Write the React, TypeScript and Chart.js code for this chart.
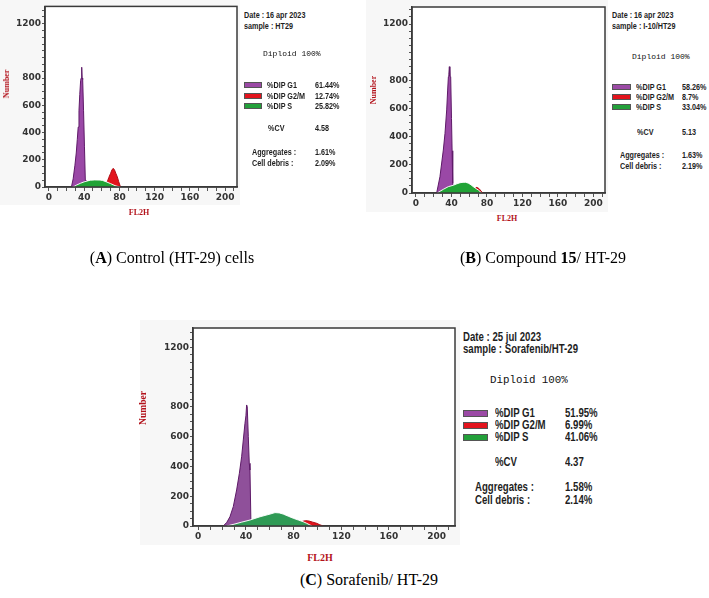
import React, { useEffect, useRef } from 'react';
import { Chart, registerables } from 'chart.js';
Chart.register(...registerables);

// ---------- axis tick labels ----------
const Y_TICK_LABELS = [0, 200, 400, 600, 800, 1200];
const X_TICK_LABELS = [0, 40, 80, 120, 160, 200];
const Y_TICK_MARKS = Array.from({ length: 27 }, (_, i) => i * 50); // minor ticks every 50
const X_TICK_MARKS = Array.from({ length: 22 }, (_, i) => i * 10); // minor ticks every 10

// ---------- Panel A : Control (HT-29) ----------
const A_G1_X = [25.5, 27.5, 29.5, 31, 32.2, 33.2, 34.1, 35, 36, 36.6, 37.2, 37.7, 38.3, 39.3, 40.3, 41.3, 42];
const A_G1_Y = [0, 60, 160, 250, 350, 440, 560, 680, 784, 800, 880, 800, 790, 560, 300, 50, 0];
const A_S_X = [27.5, 31.5, 36, 40, 44, 47, 52, 58, 61, 65, 70, 75, 80.5];
const A_S_Y = [0, 15, 28, 38, 45, 50, 52, 51, 48, 38, 25, 10, 0];
const A_G2_X = [64.5, 66.3, 68, 70, 71.5, 73, 74.5, 76, 77.6, 79.2, 81, 82];
const A_G2_Y = [0, 39, 70, 100, 125, 137, 125, 100, 75, 40, 5, 0];

// ---------- Panel B : Compound 15 / HT-29 ----------
const B_G1_X = [23.3, 27, 30.8, 32.7, 34.6, 35.7, 36.5, 37.0, 37.6, 38.2, 39.1, 40.0, 40.7, 41.4, 42.2];
const B_G1_Y = [0, 115, 305, 424, 590, 731, 826, 840, 897, 830, 826, 530, 300, 69, 0];
const B_S_X = [24, 27, 30.8, 36.4, 42, 46, 49.6, 53, 56, 59, 62, 64.6, 67.5, 70.3, 74];
const B_S_Y = [0, 12, 26, 45, 55, 65, 73, 76, 76, 70, 58, 45, 32, 21, 0];
const B_G2_X = [66, 67.7, 69.5, 71.5, 73.5, 75.5];
const B_G2_Y = [0, 40, 38, 28, 12, 0];

// ---------- Panel C : Sorafenib / HT-29 ----------
const C_G1_X = [21, 24, 26.6, 29.4, 32.2, 34.5, 36.4, 37.8, 39.2, 40.0, 40.6, 41.1, 42.0, 42.8, 43.4, 44.2, 44.8];
const C_G1_Y = [0, 25, 62, 130, 242, 354, 465, 578, 690, 740, 813, 801, 600, 421, 376, 18, 0];
const C_S_X = [23.8, 30, 36, 43.4, 51.8, 60.2, 64.4, 68, 71.3, 75.5, 79.7, 84, 88, 91, 93.7, 95.5];
const C_S_Y = [0, 12, 25, 40, 62, 80, 90, 88, 80, 66, 52, 40, 29, 18, 7, 0];
const C_G2_X = [84, 87, 90, 93, 96, 99.4, 102, 105];
const C_G2_Y = [0, 30, 36, 33, 26, 18, 8, 0];

// ---------- info texts ----------
const LEGEND_NAMES = ['%DIP G1', '%DIP G2/M', '%DIP S'];
const A_INFO = { date: 'Date : 16 apr 2023', sample: 'sample : HT29', vals: ['61.44%', '12.74%', '25.82%'], cv: '4.58', agg: '1.61%', debris: '2.09%' };
const B_INFO = { date: 'Date : 16 apr 2023', sample: 'sample : I-10/HT29', vals: ['58.26%', '8.7%', '33.04%'], cv: '5.13', agg: '1.63%', debris: '2.19%' };
const C_INFO = { date: 'Date : 25 jul 2023', sample: 'sample :  Sorafenib/HT-29', vals: ['51.95%', '6.99%', '41.06%'], cv: '4.37', agg: '1.58%', debris: '2.14%' };

const pts = (xs: number[], ys: number[]) => xs.map((x, i) => ({ x, y: ys[i] }));

const SANS = '"Liberation Sans", Arial, sans-serif';
const MONO = '"Liberation Mono", "DejaVu Sans Mono", monospace';
const SERIF = '"Liberation Serif", "Times New Roman", serif';

const framePlugin = {
  id: 'frame',
  beforeDraw(chart: any) {
    const { ctx, chartArea, width, height } = chart;
    const { left, top, right, bottom } = chartArea;
    ctx.save();
    ctx.fillStyle = '#f7f7f7';
    ctx.fillRect(0, 0, width, height);
    ctx.fillStyle = '#ffffff';
    ctx.fillRect(left, top, right - left, bottom - top);
    ctx.restore();
  },
  afterDraw(chart: any) {
    const { ctx, chartArea } = chart;
    const { left, top, right, bottom } = chartArea;
    ctx.save();
    ctx.strokeStyle = '#3a3a3a';
    ctx.lineWidth = 1.5;
    ctx.strokeRect(left, top, right - left, bottom - top);
    ctx.restore();
  },
};

type PanelCfg = {
  left: number; top: number; w: number; h: number;
  yW: number; xH: number; padTop: number; padRight: number;
  xMin: number; xMax: number; yMax: number;
  g1: { x: number; y: number }[]; g2: { x: number; y: number }[]; s: { x: number; y: number }[];
  purple: string; green: string;
};

function Panel({ cfg }: { cfg: PanelCfg }) {
  const ref = useRef<HTMLCanvasElement>(null);
  useEffect(() => {
    const tickFont = { family: '"DejaVu Sans", sans-serif', weight: 'bold' as const, size: 9 };
    const chart = new Chart(ref.current as HTMLCanvasElement, {
      type: 'line',
      data: {
        datasets: [
          { label: '%DIP S', data: cfg.s, fill: 'origin', backgroundColor: cfg.green, borderColor: 'rgba(255,255,255,0.95)', borderWidth: 1, pointRadius: 0, tension: 0, order: 0 },
          { label: '%DIP G2/M', data: cfg.g2, fill: 'origin', backgroundColor: '#e3141d', borderColor: '#b00d15', borderWidth: 1, pointRadius: 0, tension: 0, order: 1 },
          { label: '%DIP G1', data: cfg.g1, fill: 'origin', backgroundColor: cfg.purple, borderColor: '#5e1a68', borderWidth: 1, pointRadius: 0, tension: 0, order: 2 },
        ],
      },
      options: {
        animation: false,
        responsive: false,
        maintainAspectRatio: false,
        layout: { padding: { left: 0, top: cfg.padTop, right: cfg.padRight, bottom: 0 } },
        plugins: { legend: { display: false }, tooltip: { enabled: false } },
        scales: {
          x: {
            type: 'linear', min: cfg.xMin, max: cfg.xMax,
            afterBuildTicks: (s: any) => { s.ticks = X_TICK_MARKS.map((v) => ({ value: v })); },
            afterFit: (s: any) => { s.height = cfg.xH; },
            border: { display: true, color: '#3a3a3a', width: 1.5 },
            grid: { drawOnChartArea: false, drawTicks: true, tickLength: 4, color: '#555' },
            ticks: {
              autoSkip: false, maxRotation: 0, minRotation: 0, padding: 1, color: '#333', font: tickFont,
              callback: (v: any) => (X_TICK_LABELS.includes(Number(v)) ? String(v) : ''),
            },
          },
          y: {
            type: 'linear', min: 0, max: cfg.yMax,
            afterBuildTicks: (s: any) => { s.ticks = Y_TICK_MARKS.map((v) => ({ value: v })); },
            afterFit: (s: any) => { s.width = cfg.yW; },
            border: { display: true, color: '#3a3a3a', width: 1.5 },
            grid: { drawOnChartArea: false, drawTicks: true, tickLength: 3, color: '#555' },
            ticks: {
              autoSkip: false, padding: 1, color: '#333', font: tickFont,
              callback: (v: any) => (Y_TICK_LABELS.includes(Number(v)) ? String(v) : ''),
            },
          },
        },
      },
      plugins: [framePlugin],
    } as any);
    return () => chart.destroy();
  }, []);
  return (
    <canvas ref={ref} width={cfg.w} height={cfg.h}
      style={{ position: 'absolute', left: cfg.left, top: cfg.top, width: cfg.w, height: cfg.h }} />
  );
}

function T({ x, y, size, family = SANS, weight = 700, color = '#1e1e1e', children, center = false, sx }: any) {
  const tf = [center ? 'translateX(-50%)' : '', sx ? `scaleX(${sx})` : ''].join(' ').trim();
  return (
    <div style={{
      position: 'absolute', left: x, top: y - size / 2, fontSize: size, lineHeight: `${size}px`,
      fontFamily: family, fontWeight: weight, color, whiteSpace: 'nowrap',
      transform: tf || undefined, transformOrigin: 'left center',
    }}>{children}</div>
  );
}

function Rotated({ x, y, size, children }: any) {
  return (
    <div style={{
      position: 'absolute', left: x, top: y, fontSize: size, lineHeight: `${size}px`, fontFamily: SERIF,
      fontWeight: 700, color: '#b3121b', whiteSpace: 'nowrap', transform: 'translate(-50%,-50%) rotate(-90deg)',
    }}>{children}</div>
  );
}

function Swatch({ x, y, w, h, color }: any) {
  return <div style={{ position: 'absolute', left: x, top: y - h / 2, width: w - 2, height: h - 2, background: color, border: '1px solid #555' }} />;
}

const SWATCH_COLORS = ['#9b4aa5', '#e3141d', '#23a03a'];

function Info({ info, L }: any) {
  const sx = L.sx;
  const els: any[] = [];
  els.push(<T key="d" x={L.x0} y={L.yDate} size={L.fs} sx={sx}>{info.date}</T>);
  els.push(<T key="s" x={L.x0} y={L.ySample} size={L.fs} sx={sx}>{info.sample}</T>);
  els.push(<T key="dip" x={L.xDip} y={L.yDip} size={L.fsMono} family={MONO} weight={400} color="#111">Diploid 100%</T>);
  LEGEND_NAMES.forEach((n, i) => {
    els.push(<Swatch key={'sw' + i} x={L.x0} y={L.yRows[i]} w={L.swW} h={L.swH} color={SWATCH_COLORS[i]} />);
    els.push(<T key={'n' + i} x={L.xName} y={L.yRows[i]} size={L.fs} sx={sx}>{n}</T>);
    els.push(<T key={'v' + i} x={L.xVal} y={L.yRows[i]} size={L.fs} sx={sx}>{info.vals[i]}</T>);
  });
  els.push(<T key="cv" x={L.xCv} y={L.yCv} size={L.fs} sx={sx}>%CV</T>);
  els.push(<T key="cvv" x={L.xVal} y={L.yCv} size={L.fs} sx={sx}>{info.cv}</T>);
  els.push(<T key="ag" x={L.xAgg} y={L.yAgg} size={L.fs} sx={sx}>Aggregates :</T>);
  els.push(<T key="agv" x={L.xVal} y={L.yAgg} size={L.fs} sx={sx}>{info.agg}</T>);
  els.push(<T key="cd" x={L.xAgg} y={L.yDeb} size={L.fs} sx={sx}>Cell debris :</T>);
  els.push(<T key="cdv" x={L.xVal} y={L.yDeb} size={L.fs} sx={sx}>{info.debris}</T>);
  return <>{els}</>;
}

const PANEL_A: PanelCfg = {
  left: 0, top: 0, w: 240, h: 205, yW: 45, xH: 18, padTop: 6, padRight: 3,
  xMin: -4.5, xMax: 213.6, yMax: 1327,
  g1: pts(A_G1_X, A_G1_Y), g2: pts(A_G2_X, A_G2_Y), s: pts(A_S_X, A_S_Y),
  purple: '#9a48a6', green: '#21a336',
};
const PANEL_B: PanelCfg = {
  left: 366, top: 0, w: 242, h: 212, yW: 46, xH: 19, padTop: 7, padRight: 3,
  xMin: -4.5, xMax: 213, yMax: 1321,
  g1: pts(B_G1_X, B_G1_Y), g2: pts(B_G2_X, B_G2_Y), s: pts(B_S_X, B_S_Y),
  purple: '#9a48a6', green: '#21a336',
};
const PANEL_C: PanelCfg = {
  left: 140, top: 320, w: 320, h: 225, yW: 53, xH: 19, padTop: 8, padRight: 5,
  xMin: -4.4, xMax: 215.4, yMax: 1330,
  g1: pts(C_G1_X, C_G1_Y), g2: pts(C_G2_X, C_G2_Y), s: pts(C_S_X, C_S_Y),
  purple: '#8f509a', green: '#2f9a55',
};

const LAYOUT_A = { x0: 244, yDate: 15, ySample: 26, xDip: 263, yDip: 54, fs: 9.5, sx: 0.76, fsMono: 8, swW: 18, swH: 6, yRows: [85, 96, 106], xName: 267, xVal: 315, xCv: 268, yCv: 128, xAgg: 252, yAgg: 152, yDeb: 163 };
const LAYOUT_B = { x0: 612, yDate: 15, ySample: 26, xDip: 632, yDip: 57, fs: 9.5, sx: 0.76, fsMono: 8, swW: 19, swH: 6, yRows: [87, 97, 107], xName: 636, xVal: 682, xCv: 637, yCv: 132, xAgg: 620, yAgg: 155, yDeb: 166 };
const LAYOUT_C = { x0: 463, yDate: 337, ySample: 349, xDip: 490, yDip: 380, fs: 12.5, sx: 0.77, fsMono: 10.8, swW: 25, swH: 7, yRows: [413, 425, 437], xName: 495, xVal: 565, xCv: 495, yCv: 462, xAgg: 475, yAgg: 487, yDeb: 500 };

export default function App() {
  return (
    <div style={{ position: 'absolute', left: 0, top: 0, width: 709, height: 598, background: '#fff', overflow: 'hidden' }}>
      <Panel cfg={PANEL_A} />
      <Panel cfg={PANEL_B} />
      <Panel cfg={PANEL_C} />

      <Rotated x={7} y={84} size={8}>Number</Rotated>
      <Rotated x={374} y={90} size={8}>Number</Rotated>
      <Rotated x={144} y={408} size={9.5}>Number</Rotated>

      <T x={139} y={213} size={8} family={SERIF} color="#b3121b" center>FL2H</T>
      <T x={507} y={219} size={8} family={SERIF} color="#b3121b" center>FL2H</T>
      <T x={320} y={558} size={10} family={SERIF} color="#b3121b" center>FL2H</T>

      <Info info={A_INFO} L={LAYOUT_A} />
      <Info info={B_INFO} L={LAYOUT_B} />
      <Info info={C_INFO} L={LAYOUT_C} />

      <T x={172} y={258} size={16} family={SERIF} weight={400} color="#000" center>(<b>A</b>) Control (HT-29) cells</T>
      <T x={543} y={258} size={16} family={SERIF} weight={400} color="#000" center>(<b>B</b>) Compound <b>15</b>/ HT-29</T>
      <T x={369} y={580} size={16} family={SERIF} weight={400} color="#000" center>(<b>C</b>) Sorafenib/ HT-29</T>
    </div>
  );
}
